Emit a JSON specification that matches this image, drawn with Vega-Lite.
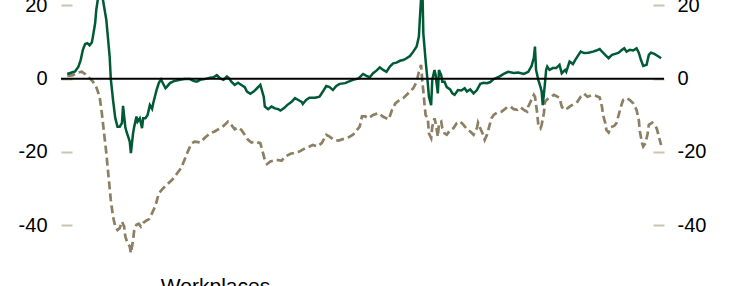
{
"$schema": "https://vega.github.io/schema/vega-lite/v6.json",
"width": 603, "height": 260,
"autosize": {"type": "none"},
"padding": {"left": 61, "top": 0, "right": 69, "bottom": 26},
"background": "white",
"config": {"view": {"stroke": null}, "font": "Liberation Sans"},
"datasets": {
"solid": [
{"day":0,"value":1.3},{"day":4,"value":1.7},{"day":7,"value":2.0},{"day":10,"value":3.3},{"day":12,"value":5.1},{"day":14,"value":7.9},{"day":16,"value":9.5},{"day":18,"value":9.7},{"day":20,"value":9.1},{"day":22,"value":9.9},{"day":23,"value":11.5},{"day":25,"value":15.2},{"day":26,"value":18.8},{"day":30,"value":27},{"day":32,"value":21.5},{"day":35,"value":16.1},{"day":38,"value":6.0},{"day":39,"value":0},{"day":41,"value":-5.8},{"day":43,"value":-10.7},{"day":45,"value":-13.1},{"day":47,"value":-13.1},{"day":49,"value":-12.1},{"day":50,"value":-7.4},{"day":52,"value":-13.2},{"day":53,"value":-14.4},{"day":55,"value":-16.2},{"day":56,"value":-17.2},{"day":57,"value":-20.3},{"day":59,"value":-14.8},{"day":60,"value":-13.1},{"day":62,"value":-10.3},{"day":63,"value":-11.7},{"day":65,"value":-10.8},{"day":67,"value":-13.5},{"day":68,"value":-10.8},{"day":70,"value":-10.8},{"day":72,"value":-9.9},{"day":74,"value":-7.2},{"day":76,"value":-8.2},{"day":77,"value":-6.7},{"day":80,"value":-3.1},{"day":82,"value":-1.2},{"day":84,"value":-0.2},{"day":88,"value":-2.6},{"day":89,"value":-2.3},{"day":92,"value":-1.2},{"day":96,"value":-0.6},{"day":101,"value":-0.3},{"day":105,"value":-0.1},{"day":110,"value":-0.1},{"day":113,"value":-0.6},{"day":116,"value":-0.8},{"day":119,"value":-0.3},{"day":123,"value":-0.1},{"day":128,"value":0.3},{"day":131,"value":0.4},{"day":134,"value":1.0},{"day":137,"value":0.1},{"day":140,"value":-0.3},{"day":143,"value":0.6},{"day":145,"value":0.1},{"day":147,"value":-0.8},{"day":150,"value":-1.7},{"day":153,"value":-1.1},{"day":156,"value":-1.7},{"day":159,"value":-2.3},{"day":161,"value":-3.5},{"day":164,"value":-4.1},{"day":167,"value":-3.5},{"day":170,"value":-2.6},{"day":173,"value":-1.7},{"day":176,"value":-4.9},{"day":177,"value":-7.6},{"day":180,"value":-8.3},{"day":183,"value":-7.6},{"day":186,"value":-8.1},{"day":189,"value":-8.3},{"day":191,"value":-8.7},{"day":194,"value":-8.1},{"day":197,"value":-7.2},{"day":201,"value":-6.3},{"day":204,"value":-5.3},{"day":207,"value":-5.8},{"day":210,"value":-6.3},{"day":211,"value":-6.9},{"day":214,"value":-5.8},{"day":217,"value":-5.2},{"day":222,"value":-5.2},{"day":226,"value":-4.9},{"day":229,"value":-3.5},{"day":232,"value":-2.0},{"day":235,"value":-2.3},{"day":238,"value":-3.1},{"day":241,"value":-2.0},{"day":244,"value":-1.4},{"day":249,"value":-1.2},{"day":252,"value":-0.8},{"day":256,"value":-0.3},{"day":261,"value":0.1},{"day":265,"value":1.3},{"day":268,"value":0.8},{"day":271,"value":0.4},{"day":274,"value":1.5},{"day":277,"value":2.2},{"day":280,"value":3.1},{"day":283,"value":2.4},{"day":286,"value":1.9},{"day":289,"value":3.3},{"day":292,"value":4.2},{"day":295,"value":4.4},{"day":298,"value":4.9},{"day":301,"value":5.1},{"day":304,"value":5.6},{"day":307,"value":6.2},{"day":310,"value":7.4},{"day":313,"value":8.8},{"day":315,"value":11.5},{"day":316,"value":17.0},{"day":318,"value":27},{"day":319,"value":12.4},{"day":321,"value":5.1},{"day":323,"value":-1.2},{"day":324,"value":-4.9},{"day":326,"value":-7.2},{"day":327,"value":-0.3},{"day":329,"value":2.4},{"day":330,"value":1.0},{"day":332,"value":-4.0},{"day":333,"value":2.4},{"day":335,"value":1.0},{"day":336,"value":-0.8},{"day":338,"value":-0.8},{"day":340,"value":-2.3},{"day":343,"value":-2.9},{"day":345,"value":-4.0},{"day":347,"value":-4.4},{"day":350,"value":-3.1},{"day":353,"value":-3.2},{"day":356,"value":-2.6},{"day":358,"value":-3.5},{"day":361,"value":-2.9},{"day":364,"value":-4.0},{"day":367,"value":-3.1},{"day":370,"value":-1.4},{"day":373,"value":-1.1},{"day":376,"value":-1.2},{"day":379,"value":-0.9},{"day":382,"value":-0.1},{"day":386,"value":0.4},{"day":391,"value":1.3},{"day":395,"value":1.9},{"day":400,"value":1.6},{"day":404,"value":1.7},{"day":409,"value":1.3},{"day":413,"value":1.9},{"day":416,"value":3.5},{"day":418,"value":5.7},{"day":419,"value":8.8},{"day":420,"value":2.4},{"day":422,"value":-0.3},{"day":424,"value":-2.3},{"day":425,"value":-3.5},{"day":426,"value":-7.2},{"day":428,"value":-1.1},{"day":429,"value":2.4},{"day":430,"value":3.3},{"day":432,"value":2.4},{"day":435,"value":2.9},{"day":438,"value":2.9},{"day":441,"value":3.8},{"day":443,"value":1.5},{"day":446,"value":2.4},{"day":447,"value":1.9},{"day":450,"value":4.7},{"day":453,"value":4.0},{"day":455,"value":5.1},{"day":458,"value":6.5},{"day":460,"value":7.4},{"day":463,"value":7.0},{"day":467,"value":7.1},{"day":471,"value":7.4},{"day":474,"value":7.7},{"day":477,"value":8.1},{"day":480,"value":7.1},{"day":483,"value":6.2},{"day":485,"value":5.6},{"day":488,"value":6.5},{"day":491,"value":6.8},{"day":494,"value":7.1},{"day":497,"value":7.9},{"day":499,"value":8.3},{"day":501,"value":7.4},{"day":504,"value":7.9},{"day":507,"value":7.7},{"day":510,"value":8.3},{"day":512,"value":7.1},{"day":514,"value":5.1},{"day":516,"value":3.5},{"day":519,"value":3.8},{"day":521,"value":6.5},{"day":523,"value":7.1},{"day":526,"value":6.8},{"day":529,"value":6.2},{"day":532,"value":5.6}
],
"dashed": [
{"day":0,"value":0.8},{"day":5,"value":1.0},{"day":10,"value":1.7},{"day":13,"value":1.9},{"day":16,"value":1.3},{"day":20,"value":0.1},{"day":23,"value":-0.8},{"day":26,"value":-2.3},{"day":29,"value":-4.9},{"day":31,"value":-9.4},{"day":33,"value":-14.9},{"day":35,"value":-20.3},{"day":37,"value":-26.7},{"day":39,"value":-33.1},{"day":41,"value":-37.6},{"day":43,"value":-40.4},{"day":45,"value":-41.3},{"day":47,"value":-40.8},{"day":49,"value":-39.0},{"day":51,"value":-40.4},{"day":52,"value":-43.1},{"day":54,"value":-44.9},{"day":56,"value":-45.8},{"day":57,"value":-47.6},{"day":59,"value":-44.0},{"day":60,"value":-41.3},{"day":62,"value":-39.9},{"day":64,"value":-39.6},{"day":66,"value":-40.4},{"day":68,"value":-39.4},{"day":71,"value":-38.7},{"day":73,"value":-38.4},{"day":76,"value":-36.7},{"day":78,"value":-35.4},{"day":80,"value":-33.6},{"day":82,"value":-31.3},{"day":86,"value":-29.9},{"day":89,"value":-29.0},{"day":94,"value":-27.6},{"day":98,"value":-26.0},{"day":102,"value":-24.4},{"day":105,"value":-22.2},{"day":108,"value":-19.9},{"day":111,"value":-17.8},{"day":114,"value":-17.2},{"day":119,"value":-17.4},{"day":123,"value":-16.2},{"day":128,"value":-14.9},{"day":132,"value":-14.4},{"day":137,"value":-13.5},{"day":140,"value":-12.9},{"day":144,"value":-11.7},{"day":147,"value":-12.6},{"day":150,"value":-13.8},{"day":153,"value":-13.3},{"day":156,"value":-14.0},{"day":159,"value":-15.3},{"day":162,"value":-16.7},{"day":165,"value":-17.4},{"day":168,"value":-17.2},{"day":173,"value":-17.6},{"day":175,"value":-19.9},{"day":177,"value":-22.2},{"day":179,"value":-23.3},{"day":182,"value":-22.6},{"day":186,"value":-22.2},{"day":189,"value":-22.2},{"day":192,"value":-22.4},{"day":195,"value":-21.3},{"day":200,"value":-20.5},{"day":204,"value":-20.2},{"day":208,"value":-19.9},{"day":213,"value":-19.0},{"day":217,"value":-18.5},{"day":220,"value":-18.1},{"day":224,"value":-18.5},{"day":228,"value":-17.6},{"day":232,"value":-15.3},{"day":235,"value":-15.8},{"day":239,"value":-16.7},{"day":243,"value":-16.9},{"day":247,"value":-16.5},{"day":252,"value":-16.0},{"day":256,"value":-15.3},{"day":259,"value":-14.2},{"day":262,"value":-13.1},{"day":264,"value":-10.3},{"day":267,"value":-10.3},{"day":270,"value":-10.8},{"day":274,"value":-9.9},{"day":279,"value":-9.4},{"day":283,"value":-10.4},{"day":288,"value":-11.1},{"day":291,"value":-8.5},{"day":294,"value":-6.7},{"day":297,"value":-6.0},{"day":301,"value":-5.3},{"day":306,"value":-3.8},{"day":310,"value":-2.6},{"day":313,"value":-0.8},{"day":315,"value":1.9},{"day":317,"value":3.8},{"day":318,"value":-0.3},{"day":320,"value":-6.7},{"day":321,"value":-9.9},{"day":323,"value":-10.8},{"day":324,"value":-14.9},{"day":326,"value":-16.2},{"day":327,"value":-13.1},{"day":329,"value":-10.8},{"day":330,"value":-12.1},{"day":332,"value":-15.8},{"day":333,"value":-12.1},{"day":335,"value":-11.7},{"day":336,"value":-13.5},{"day":338,"value":-14.9},{"day":340,"value":-15.3},{"day":343,"value":-14.0},{"day":346,"value":-13.5},{"day":349,"value":-12.1},{"day":352,"value":-11.7},{"day":355,"value":-12.6},{"day":358,"value":-13.8},{"day":361,"value":-14.4},{"day":364,"value":-15.3},{"day":367,"value":-13.5},{"day":368,"value":-12.0},{"day":370,"value":-13.5},{"day":372,"value":-14.9},{"day":374,"value":-16.7},{"day":376,"value":-15.3},{"day":378,"value":-13.1},{"day":380,"value":-10.8},{"day":382,"value":-9.9},{"day":385,"value":-9.3},{"day":389,"value":-9.0},{"day":394,"value":-7.8},{"day":397,"value":-7.6},{"day":400,"value":-8.3},{"day":403,"value":-8.5},{"day":406,"value":-7.8},{"day":409,"value":-8.5},{"day":412,"value":-9.0},{"day":413,"value":-7.6},{"day":415,"value":-6.3},{"day":418,"value":-4.4},{"day":419,"value":-4.9},{"day":421,"value":-9.4},{"day":422,"value":-12.6},{"day":424,"value":-13.5},{"day":425,"value":-12.6},{"day":427,"value":-9.4},{"day":428,"value":-6.3},{"day":430,"value":-5.6},{"day":433,"value":-5.1},{"day":436,"value":-4.4},{"day":439,"value":-4.9},{"day":441,"value":-5.3},{"day":443,"value":-7.6},{"day":445,"value":-8.5},{"day":448,"value":-8.1},{"day":451,"value":-7.4},{"day":454,"value":-6.9},{"day":457,"value":-6.3},{"day":460,"value":-4.9},{"day":463,"value":-4.1},{"day":466,"value":-4.9},{"day":470,"value":-4.5},{"day":474,"value":-4.7},{"day":477,"value":-5.1},{"day":479,"value":-7.6},{"day":480,"value":-9.9},{"day":482,"value":-12.1},{"day":483,"value":-14.0},{"day":485,"value":-14.7},{"day":487,"value":-13.2},{"day":490,"value":-12.9},{"day":492,"value":-12.1},{"day":494,"value":-9.9},{"day":496,"value":-7.6},{"day":498,"value":-5.8},{"day":501,"value":-5.3},{"day":504,"value":-5.8},{"day":507,"value":-6.7},{"day":510,"value":-8.5},{"day":512,"value":-11.2},{"day":513,"value":-14.4},{"day":515,"value":-17.6},{"day":516,"value":-18.5},{"day":518,"value":-17.6},{"day":520,"value":-14.9},{"day":521,"value":-12.6},{"day":524,"value":-12.0},{"day":526,"value":-12.6},{"day":528,"value":-13.5},{"day":530,"value":-15.8},{"day":532,"value":-18.1}
]
},
"layer": [
{
"data": {"name": "dashed"},
"mark": {"type": "line", "color": "#8c7f62", "strokeWidth": 2.7, "strokeDash": [8, 4], "clip": true},
"encoding": {
"x": {"field": "day", "type": "quantitative", "scale": {"domain": [-5.6, 534.6], "nice": false, "zero": false},
"axis": {"domain": false, "ticks": false, "labels": false, "grid": false, "title": "Workplaces", "titleFont": "Liberation Sans", "titleFontSize": 21, "titleFontWeight": "normal", "titleColor": "black", "titleX": 154, "titleY": 32, "titleAlign": "center", "titleBaseline": "alphabetic"}},
"y": {"field": "value", "type": "quantitative", "scale": {"domain": [-49.5, 21.5], "nice": false, "zero": false},
"axis": {"orient": "left", "values": [-40, -20, 0, 20], "labelExpr": "'' + datum.value", "domain": false, "grid": false, "tickSize": 11, "tickWidth": 2, "tickColor": "#cbc3ad", "offset": -11, "labelPadding": 14, "labelFont": "Liberation Sans", "labelFontSize": 20, "labelColor": "black", "title": null}}
}
},
{
"data": {"name": "solid"},
"mark": {"type": "line", "color": "#005a36", "strokeWidth": 2.5, "clip": true},
"encoding": {
"x": {"field": "day", "type": "quantitative", "axis": null},
"y": {"field": "value", "type": "quantitative",
"axis": {"orient": "right", "values": [-40, -20, 0, 20], "labelExpr": "'' + datum.value", "domain": false, "grid": false, "tickSize": 11, "tickWidth": 2, "tickColor": "#cbc3ad", "offset": -11, "labelPadding": 13, "labelFont": "Liberation Sans", "labelFontSize": 20, "labelColor": "black", "title": null}}
}
},
{
"data": {"values": [{"level": 0}]},
"mark": {"type": "rule", "color": "black", "strokeWidth": 2},
"encoding": {"y": {"field": "level", "type": "quantitative", "axis": null}}
}
],
"resolve": {"axis": {"y": "independent", "x": "independent"}}
}
